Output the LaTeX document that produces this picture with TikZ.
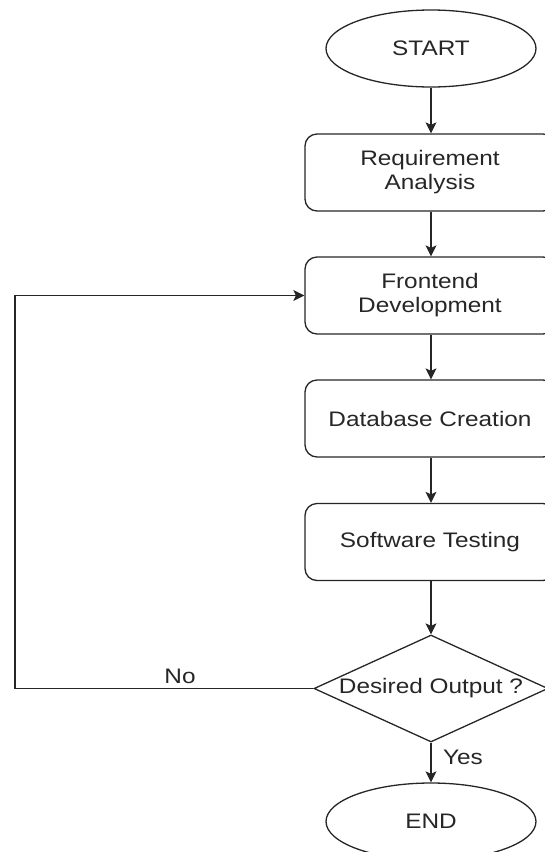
\documentclass[tikz,border=0pt]{standalone}
\usepackage{fontspec}
\setmainfont{Liberation Sans}[FakeStretch=1.16]
\usetikzlibrary{shapes.geometric,arrows.meta}
\begin{document}
\begin{tikzpicture}[x=1pt,y=-1pt,
  every node/.style={font=\fontsize{21}{24}\selectfont, text=black!85},
  line/.style={line width=1.3pt, draw=black!85},
  arr/.style={line, -{Stealth[length=11pt,width=11pt,inset=2.5pt]}},
  term/.style={ellipse, line, minimum width=210pt, minimum height=77pt, inner sep=0pt},
  procbox/.style={rectangle, rounded corners=12pt, line, minimum width=250pt, minimum height=77pt, align=center, inner sep=0pt},
  decision/.style={diamond, line, minimum width=234pt, minimum height=107pt, inner sep=0pt, aspect=2.2},
  lbl/.style={inner sep=0pt}]
\useasboundingbox (0,0) rectangle (545,852);
\clip (0,0) rectangle (545,852);
\node[term] (start) at (431,48.5) {START};
\node[procbox] (ra) at (430,172.5) {Requirement\\Analysis};
\node[procbox] (fd) at (430,295.5) {Frontend\\Development};
\node[procbox] (dc) at (430,418.5) {Database Creation};
\node[procbox] (st) at (430,542) {Software Testing};
\node[decision] (dec) at (431,688.5) {Desired Output ?};
\node[term] (end) at (431,821.5) {END};
\coordinate (c1) at (15,688.5);
\coordinate (c2) at (15,295.5);
\draw[arr] (start.south -| 431,0) -- (ra.north -| 431,0);
\draw[arr] (ra.south -| 431,0) -- (fd.north -| 431,0);
\draw[arr] (fd.south -| 431,0) -- (dc.north -| 431,0);
\draw[arr] (dc.south -| 431,0) -- (st.north -| 431,0);
\draw[arr] (st.south -| 431,0) -- (dec.north);
\draw[arr] (dec.south) -- (end.north);
\draw[arr] (dec.west) -- (c1) -- (c2) -- (fd.west);
\node[lbl] (no) at (180,676) {No};
\node[lbl] (yes) at (463,757) {Yes};
\end{tikzpicture}
\end{document}
